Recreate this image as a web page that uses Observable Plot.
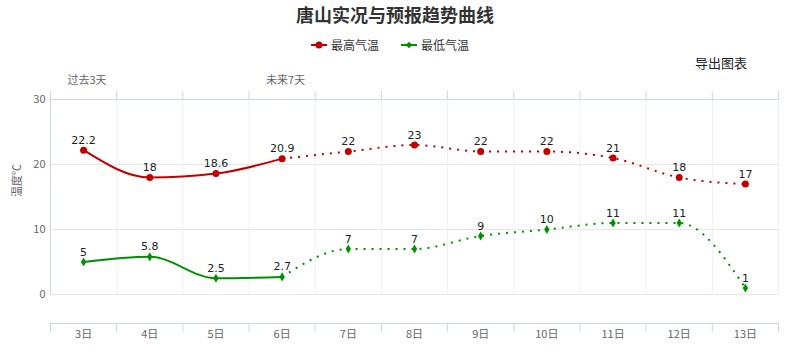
<!DOCTYPE html>
<html>
<head>
<meta charset="utf-8">
<script src="https://cdn.jsdelivr.net/npm/d3@7"></script>
<script src="https://cdn.jsdelivr.net/npm/@observablehq/plot@0.6"></script>
<style>
  body { margin: 0; background: #fff; }
  #wrap { position: relative; width: 790px; height: 359px; font-family: "Noto Sans CJK SC", sans-serif; background: #fff; overflow: hidden; }
  .abs { position: absolute; white-space: nowrap; }
  #title { top: 2px; left: 0; width: 790px; text-align: center; font-size: 18px; font-weight: bold; color: #333; line-height: 24px; }
  .leg { top: 36px; line-height: 18px; font-size: 12px; color: #333; display: flex; align-items: center; }
  .leg svg { margin-right: 4px; }
  #export { left: 695px; top: 55px; font-size: 13px; line-height: 16px; color: #222; }
  #chart { position: absolute; left: 0; top: 60px; }
</style>
</head>
<body>
<div id="wrap">
  <div id="title" class="abs">唐山实况与预报趋势曲线</div>
  <div class="abs leg" style="left:311px"><svg width="16" height="10"><line x1="0" y1="5" x2="16" y2="5" stroke="#c00000" stroke-width="2"/><circle cx="8" cy="5" r="3.5" fill="#c00000"/></svg>最高气温</div>
  <div class="abs leg" style="left:401px"><svg width="16" height="10"><line x1="0" y1="5" x2="16" y2="5" stroke="#008f00" stroke-width="2"/><path d="M8,1.8L11.2,5L8,8.2L4.8,5Z" fill="#008f00"/></svg>最低气温</div>
  <div id="export" class="abs">导出图表</div>
  <div id="chart"></div>
</div>
<script>
const days = ["3日","4日","5日","6日","7日","8日","9日","10日","11日","12日","13日"];
const high = [22.2, 18, 18.6, 20.9, 22, 23, 22, 22, 21, 18, 17];
const low = [5, 5.8, 2.5, 2.7, 7, 7, 9, 10, 11, 11, 1];
const yTicks = [0, 10, 20, 30];
const periodLabels = ["过去3天", "未来7天"];
const periodStart = [-0.5, 2.5];
const solidEnd = 3; // last observed index (6日)

const RED = "#c00000", GREEN = "#008f00";
const highRows = high.map((v, i) => ({i, v}));
const lowRows = low.map((v, i) => ({i, v}));
const bounds = d3.range(days.length + 1).map(k => k - 0.5);
const axisColor = "#ccd6eb";
const dotted = {strokeDasharray: "2,6", strokeLinecap: "butt"};

const chart = Plot.plot({
  width: 790,
  height: 299,
  marginTop: 39,
  marginBottom: 65,
  marginLeft: 50,
  marginRight: 12,
  style: {fontFamily: "'Noto Sans CJK SC', sans-serif", fontSize: "11px", background: "transparent"},
  x: {type: "linear", domain: [-0.5, days.length - 0.5]},
  y: {domain: [0, 30]},
  marks: [
    Plot.ruleY(yTicks.filter(t => t < 30), {stroke: "#e6e6e6"}),
    Plot.ruleX(bounds.slice(1), {y1: 0, y2: 30, stroke: "#f0f0f0"}),
    Plot.ruleX([bounds[0]], {y1: 0, y2: 30, stroke: axisColor}),
    Plot.ruleY([30], {stroke: axisColor}),
    Plot.axisX({anchor: "top", ticks: bounds, tickSize: 9, tickFormat: () => "", label: null, stroke: axisColor}),
    Plot.ruleY([0], {dy: 29, stroke: axisColor}),
    Plot.axisX({anchor: "bottom", ticks: bounds, tickSize: 9, tickFormat: () => "", label: null, dy: 29, stroke: axisColor}),
    Plot.text(days, {x: (d, i) => i, text: d => d, frameAnchor: "bottom", dy: 43, fill: "#666", fontSize: 11}),
    Plot.axisY({ticks: yTicks, tickSize: 0, tickPadding: 5, label: null, fill: "#666", fontSize: 11}),
    Plot.text(["温度℃"], {frameAnchor: "left", rotate: -90, dx: -33, fill: "#666", fontSize: 11}),
    Plot.text(periodLabels, {x: (d, i) => periodStart[i], text: d => d, frameAnchor: "top", dy: -23, dx: 17, textAnchor: "start", fill: "#666", fontSize: 11}),
    Plot.line(highRows.slice(0, solidEnd + 1), {x: "i", y: "v", curve: "monotone-x", stroke: RED, strokeWidth: 2}),
    Plot.line(highRows.slice(solidEnd), {x: "i", y: "v", curve: "monotone-x", stroke: RED, strokeWidth: 2, ...dotted}),
    Plot.line(lowRows.slice(0, solidEnd + 1), {x: "i", y: "v", curve: "monotone-x", stroke: GREEN, strokeWidth: 2}),
    Plot.line(lowRows.slice(solidEnd), {x: "i", y: "v", curve: "monotone-x", stroke: GREEN, strokeWidth: 2, ...dotted}),
    Plot.dot(highRows, {x: "i", y: "v", r: 3.5, fill: RED}),
    Plot.dot(lowRows, {x: "i", y: "v", r: 2.8, symbol: "diamond", fill: GREEN}),
    Plot.text(highRows, {x: "i", y: "v", text: d => String(d.v), dy: -10, fill: "#222", fontSize: 11, fontFamily: "DejaVu Sans"}),
    Plot.text(lowRows, {x: "i", y: "v", text: d => String(d.v), dy: -10, fill: "#222", fontSize: 11, fontFamily: "DejaVu Sans"})
  ]
});
document.getElementById("chart").appendChild(chart);
</script>
</body>
</html>
